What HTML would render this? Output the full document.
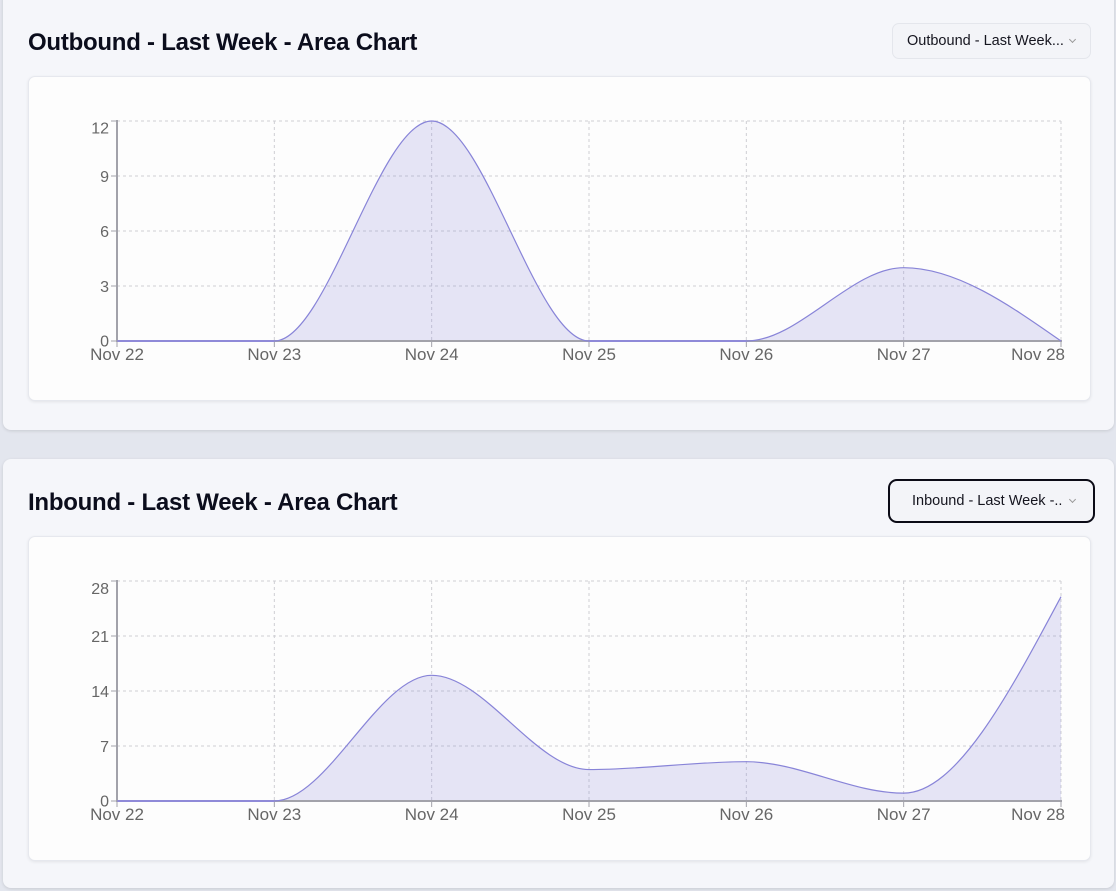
<!DOCTYPE html>
<html><head><meta charset="utf-8">
<style>
html,body{margin:0;padding:0;}
body{width:1116px;height:891px;background:#e3e6ee;position:relative;overflow:hidden;font-family:"Liberation Sans",sans-serif;}
.card{position:absolute;left:3px;width:1111px;background:#f5f6fa;border-radius:8px;box-shadow:0 1px 3px rgba(0,0,0,0.12);}
.box{position:absolute;left:28px;width:1061px;background:#fdfdfd;border:1px solid #e6e8ee;border-radius:7px;box-shadow:0 1px 3px rgba(0,0,0,0.08);}
.title{position:absolute;left:28px;font-weight:bold;font-size:24px;letter-spacing:-0.25px;color:#0b0d1c;white-space:nowrap;line-height:1;}
.sel{position:absolute;background:#f3f4f8;border-radius:7px;font-size:14.5px;color:#15151f;white-space:nowrap;box-sizing:border-box;}
.chev{position:absolute;width:4px;height:4px;border-right:1px solid #999;border-bottom:1px solid #999;transform:rotate(45deg);}
svg{position:absolute;left:0;top:0;}
</style></head><body>
<div class="card" style="top:-10px;height:440px;"></div>
<div class="card" style="top:459px;height:429px;"></div>
<div class="box" style="top:76px;height:323px;"></div>
<div class="box" style="top:536px;height:323px;"></div>

<div class="title" style="top:31px;">Outbound - Last Week - Area Chart</div>
<div class="title" style="top:491px;">Inbound - Last Week - Area Chart</div>

<div class="sel" style="left:892px;top:23px;width:199px;height:36px;border:1px solid #e4e6ec;">
  <span style="position:absolute;left:14px;top:9px;">Outbound - Last Week...</span>
  <div class="chev" style="left:177px;top:13px;"></div>
</div>
<div class="sel" style="left:888px;top:479px;width:207px;height:44px;border:2px solid #0b0b16;border-radius:9px;">
  <span style="position:absolute;left:22px;top:12px;">Inbound - Last Week -..</span>
  <div class="chev" style="left:180px;top:16px;"></div>
</div>

<svg width="1116" height="891" viewBox="0 0 1116 891" xmlns="http://www.w3.org/2000/svg">
  <!-- Chart 1 grid -->
  <g stroke="#cfcfd4" stroke-width="1" stroke-dasharray="3 3" fill="none">
    <line x1="117" y1="121" x2="1061" y2="121"/>
    <line x1="117" y1="176" x2="1061" y2="176"/>
    <line x1="117" y1="231" x2="1061" y2="231"/>
    <line x1="117" y1="286" x2="1061" y2="286"/>
    <line x1="274.33" y1="121" x2="274.33" y2="341"/>
    <line x1="431.67" y1="121" x2="431.67" y2="341"/>
    <line x1="589" y1="121" x2="589" y2="341"/>
    <line x1="746.33" y1="121" x2="746.33" y2="341"/>
    <line x1="903.67" y1="121" x2="903.67" y2="341"/>
    <line x1="1061" y1="121" x2="1061" y2="341"/>
  </g>
  <!-- Chart 1 area -->
  <path d="M117,341 L274.33,341 C326.78,341 379.22,121 431.67,121 C484.11,121 536.56,341 589,341 L746.33,341 C798.78,341 851.22,267.67 903.67,267.67 C956.11,267.67 1008.56,304.33 1061,341 Z" fill="#8884d8" fill-opacity="0.2" stroke="none"/>
  <!-- axes 1 -->
  <g stroke="#a2a2aa" stroke-width="2" fill="none">
    <line x1="117" y1="120" x2="117" y2="342"/>
    <line x1="116" y1="341" x2="1062" y2="341"/>
  </g>
  <g stroke="#a2a2aa" stroke-width="1">
    <line x1="111" y1="121" x2="117" y2="121"/>
    <line x1="111" y1="176" x2="117" y2="176"/>
    <line x1="111" y1="231" x2="117" y2="231"/>
    <line x1="111" y1="286" x2="117" y2="286"/>
    <line x1="111" y1="341" x2="117" y2="341"/>
    <line x1="117" y1="341" x2="117" y2="347"/>
    <line x1="274.33" y1="341" x2="274.33" y2="347"/>
    <line x1="431.67" y1="341" x2="431.67" y2="347"/>
    <line x1="589" y1="341" x2="589" y2="347"/>
    <line x1="746.33" y1="341" x2="746.33" y2="347"/>
    <line x1="903.67" y1="341" x2="903.67" y2="347"/>
    <line x1="1061" y1="341" x2="1061" y2="347"/>
  </g>
  <path d="M117,341 L274.33,341 C326.78,341 379.22,121 431.67,121 C484.11,121 536.56,341 589,341 L746.33,341 C798.78,341 851.22,267.67 903.67,267.67 C956.11,267.67 1008.56,304.33 1061,341" fill="none" stroke="#8884d8" stroke-width="1.2"/>
  <line x1="118" y1="341" x2="274.33" y2="341" stroke="#8f8ad8" stroke-width="2"/>
  <line x1="589" y1="341" x2="746.33" y2="341" stroke="#8f8ad8" stroke-width="2"/>
  <g font-family="Liberation Sans, sans-serif" font-size="16" fill="#666" text-anchor="end">
    <text x="109" y="133.5">12</text>
    <text x="109" y="181.8">9</text>
    <text x="109" y="236.8">6</text>
    <text x="109" y="291.8">3</text>
    <text x="109" y="346.5">0</text>
  </g>
  <g font-family="Liberation Sans, sans-serif" font-size="17" fill="#666" text-anchor="middle">
    <text x="117" y="360">Nov 22</text>
    <text x="274.33" y="360">Nov 23</text>
    <text x="431.67" y="360">Nov 24</text>
    <text x="589" y="360">Nov 25</text>
    <text x="746.33" y="360">Nov 26</text>
    <text x="903.67" y="360">Nov 27</text>
    <text x="1065" y="360" text-anchor="end">Nov 28</text>
  </g>

  <!-- Chart 2 grid -->
  <g stroke="#cfcfd4" stroke-width="1" stroke-dasharray="3 3" fill="none">
    <line x1="117" y1="581" x2="1061" y2="581"/>
    <line x1="117" y1="636" x2="1061" y2="636"/>
    <line x1="117" y1="691" x2="1061" y2="691"/>
    <line x1="117" y1="746" x2="1061" y2="746"/>
    <line x1="274.33" y1="581" x2="274.33" y2="801"/>
    <line x1="431.67" y1="581" x2="431.67" y2="801"/>
    <line x1="589" y1="581" x2="589" y2="801"/>
    <line x1="746.33" y1="581" x2="746.33" y2="801"/>
    <line x1="903.67" y1="581" x2="903.67" y2="801"/>
    <line x1="1061" y1="581" x2="1061" y2="801"/>
  </g>
  <path d="M117,801 L274.33,801 C326.78,801 379.22,675.29 431.67,675.29 C484.11,675.29 536.56,769.57 589,769.57 C641.44,769.57 693.89,761.71 746.33,761.71 C798.78,761.71 851.22,793.14 903.67,793.14 C956.11,793.14 1008.56,694.93 1061,596.71 L1061,801 Z" fill="#8884d8" fill-opacity="0.2" stroke="none"/>
  <g stroke="#a2a2aa" stroke-width="2" fill="none">
    <line x1="117" y1="580" x2="117" y2="802"/>
    <line x1="116" y1="801" x2="1062" y2="801"/>
  </g>
  <g stroke="#a2a2aa" stroke-width="1">
    <line x1="111" y1="581" x2="117" y2="581"/>
    <line x1="111" y1="636" x2="117" y2="636"/>
    <line x1="111" y1="691" x2="117" y2="691"/>
    <line x1="111" y1="746" x2="117" y2="746"/>
    <line x1="111" y1="801" x2="117" y2="801"/>
    <line x1="117" y1="801" x2="117" y2="807"/>
    <line x1="274.33" y1="801" x2="274.33" y2="807"/>
    <line x1="431.67" y1="801" x2="431.67" y2="807"/>
    <line x1="589" y1="801" x2="589" y2="807"/>
    <line x1="746.33" y1="801" x2="746.33" y2="807"/>
    <line x1="903.67" y1="801" x2="903.67" y2="807"/>
    <line x1="1061" y1="801" x2="1061" y2="807"/>
  </g>
  <path d="M117,801 L274.33,801 C326.78,801 379.22,675.29 431.67,675.29 C484.11,675.29 536.56,769.57 589,769.57 C641.44,769.57 693.89,761.71 746.33,761.71 C798.78,761.71 851.22,793.14 903.67,793.14 C956.11,793.14 1008.56,694.93 1061,596.71" fill="none" stroke="#8884d8" stroke-width="1.2"/>
  <line x1="118" y1="801" x2="274.33" y2="801" stroke="#8f8ad8" stroke-width="2"/>
  <g font-family="Liberation Sans, sans-serif" font-size="16" fill="#666" text-anchor="end">
    <text x="109" y="594">28</text>
    <text x="109" y="641.8">21</text>
    <text x="109" y="696.8">14</text>
    <text x="109" y="751.8">7</text>
    <text x="109" y="806.5">0</text>
  </g>
  <g font-family="Liberation Sans, sans-serif" font-size="17" fill="#666" text-anchor="middle">
    <text x="117" y="820">Nov 22</text>
    <text x="274.33" y="820">Nov 23</text>
    <text x="431.67" y="820">Nov 24</text>
    <text x="589" y="820">Nov 25</text>
    <text x="746.33" y="820">Nov 26</text>
    <text x="903.67" y="820">Nov 27</text>
    <text x="1065" y="820" text-anchor="end">Nov 28</text>
  </g>
</svg>
</body></html>
